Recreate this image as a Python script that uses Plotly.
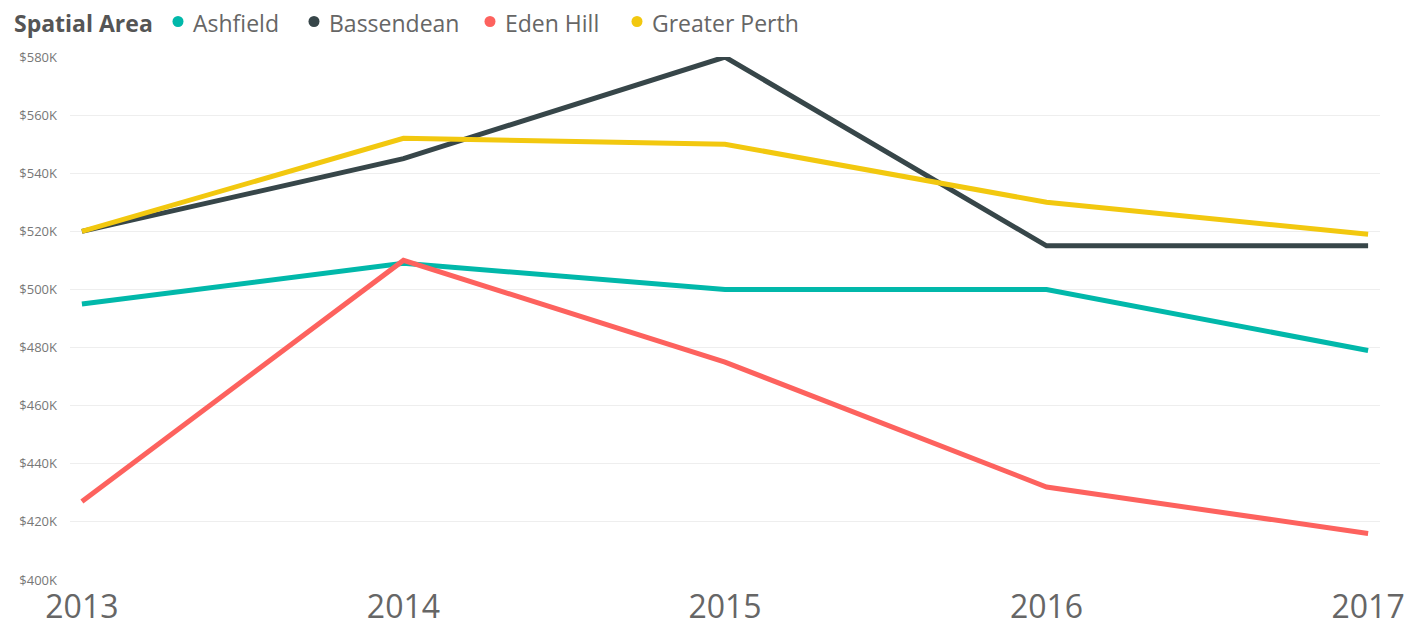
import plotly.graph_objects as go

years = [2013, 2014, 2015, 2016, 2017]
areas = ["Ashfield", "Bassendean", "Eden Hill", "Greater Perth"]
colors = ["#01B8AA", "#374649", "#FD625E", "#F2C80F"]

# median price, $K
ashfield = [495, 509, 500, 500, 479]
bassendean = [520, 545, 580, 515, 515]
eden_hill = [427, 510, 475, 432, 416]
greater_perth = [520, 552, 550, 530, 519]

y_ticks = [400, 420, 440, 460, 480, 500, 520, 540, 560, 580]
y_labels = ["$%dK" % v for v in y_ticks]

series = [ashfield, bassendean, eden_hill, greater_perth]
font = "Segoe UI, Open Sans, sans-serif"

L, R, T, B = 70, 29, 57, 47
W, H = 1409, 627
pw, ph = W - L - R, H - T - B


def px_x(p):
    return (p - L) / pw


def px_y(p):
    return (H - B - p) / ph


fig = go.Figure()
for name, vals, col in zip(areas, series, colors):
    fig.add_trace(go.Scatter(x=years, y=vals, mode="lines", name=name,
                             line=dict(color=col, width=5)))

# legend built by hand: power bi style title + dots
legend_y = px_y(23)
fig.add_annotation(x=px_x(12), y=legend_y, xref="paper", yref="paper",
                   xanchor="left", yanchor="middle", showarrow=False,
                   text="<b>Spatial Area</b>", font=dict(size=23, color="#555555"))
text_left = [191, 327, 503, 650]
for name, col, tx in zip(areas, colors, text_left):
    fig.add_annotation(x=px_x(tx), y=legend_y, xref="paper", yref="paper",
                       xanchor="left", yanchor="middle", showarrow=False,
                       text=name, font=dict(size=23, color="#666666"))
    fig.add_shape(type="circle", xref="paper", yref="paper",
                  xsizemode="pixel", ysizemode="pixel",
                  xanchor=px_x(tx - 13), yanchor=legend_y,
                  x0=-5.5, x1=5.5, y0=-4, y1=7,
                  fillcolor=col, line=dict(width=0))

fig.update_layout(
    width=W, height=H,
    margin=dict(l=L, r=R, t=T, b=B, autoexpand=False),
    paper_bgcolor="white", plot_bgcolor="white",
    font=dict(family=font, color="#666666"),
    showlegend=False,
    xaxis=dict(range=[2012.963, 2017.037], tickvals=years, showgrid=False,
               zeroline=False, showline=False,
               tickfont=dict(size=32, color="#666666"), ticks="",
               ticklabelstandoff=5),
    yaxis=dict(range=[400, 580], tickvals=y_ticks, ticktext=y_labels,
               showgrid=True, gridcolor="#eeeeee", gridwidth=1, zeroline=False,
               tickfont=dict(size=13, color="#777777"), ticks="",
               ticklabelstandoff=12),
)

# page has a default 8px body margin, drop it so the chart sits at 0,0
fig.write_html("out.html", config={"displayModeBar": False},
               post_script="document.body.style.margin='0';")
